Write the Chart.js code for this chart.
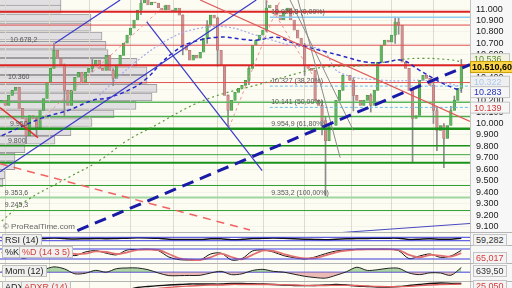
<!DOCTYPE html>
<html>
<head>
<meta charset="utf-8">
<script src="https://cdn.jsdelivr.net/npm/chart.js@4.4.0/dist/chart.umd.min.js"></script>
<style>
html,body{margin:0;padding:0;background:#fff;}
#wrap{position:relative;width:512px;height:288px;overflow:hidden;background:#fcfcf3;font-family:"Liberation Sans",Arial,sans-serif;}
canvas{position:absolute;left:0;}
.axisbg{position:absolute;left:470px;top:0;width:42px;height:288px;background:#f7f7f7;border-left:1px solid #c4c4c4;box-sizing:border-box;}
.sep{position:absolute;left:0;width:512px;height:1px;background:#b4b4b4;}
.tag{position:absolute;font-size:9px;line-height:10px;padding:0 2px;background:#f0f0ee;border:1px solid #c0c0c0;color:#222;white-space:nowrap;}
.val{position:absolute;left:473px;font-size:9px;line-height:10px;padding:0 2px;background:#f4f4f4;border:1px solid #c4c4c4;color:#333;white-space:nowrap;}
.copy{position:absolute;left:3px;top:222px;font-size:8px;color:#666;}
</style>
</head>
<body>
<div id="wrap">
  <div class="axisbg"></div>
  <canvas id="vp" width="470" height="233" style="top:0"></canvas>
  <canvas id="main" width="512" height="233" style="top:0"></canvas>
  <canvas id="rsi" width="512" height="12" style="top:233px"></canvas>
  <canvas id="sto" width="512" height="18" style="top:245px"></canvas>
  <canvas id="mom" width="512" height="18" style="top:263px"></canvas>
  <canvas id="adx" width="512" height="24" style="top:281px"></canvas>
  <div class="sep" style="top:232px"></div>
  <div class="sep" style="top:245px"></div>
  <div class="sep" style="top:263px"></div>
  <div class="sep" style="top:281px"></div>
  <div class="copy">© ProRealTime.com</div>
  <div class="tag" style="left:2px;top:234px">RSI (14)</div>
  <div class="tag" style="left:2px;top:246px">%K</div>
  <div class="tag" style="left:19px;top:246px;color:#d63c3c">%D (14 3 5)</div>
  <div class="tag" style="left:2px;top:265px">Mom (12)</div>
  <div class="tag" style="left:2px;top:281px">ADX</div>
  <div class="tag" style="left:21px;top:281px;color:#d63c3c">ADXR (14)</div>
  <div class="val" style="top:234px">59,282</div>
  <div class="val" style="top:252px;color:#d63c3c">65,017</div>
  <div class="val" style="top:265px">639,50</div>
  <div class="val" style="top:280px;color:#d63c3c">25,050</div>
</div>
<script>
// candles (open = previous close)
const firstOpen = 10180;
const closes = [
  10202,10158,10246,10289,10316,10132,10044,9895,10070,10044,
  9965,10114,10219,10360,10482,10640,10570,10509,10289,10158,
  10289,10404,10447,10360,10447,10482,10509,10553,10482,10465,
  10596,10465,10395,10509,10596,10702,10772,10833,10904,10991,
  11053,11100,11035,11061,11053,11009,10991,11035,10991,10974,
  11009,10947,10684,10640,10553,10596,10570,10623,10746,10860,
  10947,10921,10640,10509,10246,10114,10202,10272,10307,10333,
  10377,10482,10684,10728,10772,10816,11009,11035,11035,10947,
  10904,10974,11009,10904,10816,10746,10684,10509,10482,10465,
  10202,10158,10026,9851,9983,9983,10202,10289,10421,10421,
  10377,10246,10202,10158,10202,10246,10158,10289,10535,10684,
  10728,10711,10772,10886,10860,10535,10482,10289,10044,10070,
  10377,10421,10395,10333,10114,9939,9983,9869,9983,10114,
  10202,10307,10510.6
];
const wickIdx  = [7,10,15,18,26,32,40,52,59,62,65,71,76,87,92,93,101,106,113,114,118,124,125,127,129,130,132];
const wickLow  = [9825,9895,10600,10070,10450,10330,10950,10600,10700,10500,9982,10340,10800,10420,9900,9368,10110,10100,10700,10780,9658,10000,9763,9614,9990,10140,10270];
const wickHigh = [10000,10060,10702,10520,10560,10480,11120,10950,10900,10930,10250,10500,11120,10700,10200,10060,10400,10260,10930,10920,10300,10380,10140,10000,10150,10240,10560];

// volume profile
const vpPrice = [11061,11000,10921,10842,10763,10684,10610,10535,10461,10386,10307,10232,10158,10083,10009,9930,9855,9781,9706,9632,9553,9482];
const vpVol   = [61,61,91,91,102,106,108,137,147,147,157,152,136,114,92,71,55,25,15,15,5,3];

// horizontal levels
const hLevels = [10976,10929,10860,10684,10509,10358,10327,10187,10141,10061,9955,9807,9728,9658,9459,9353,9240];
const hFrom   = [-0.5,77,-0.5,-0.5,-0.5,-0.5,77,-0.5,77,-0.5,-0.5,-0.5,-0.5,-0.5,-0.5,-0.5,-0.5];
const hColors = ['#dd2424','#8cccf2','#e04a4a','#e05252','#dd2424','#e05252','#6cbcf0','#5cb85c','#6cbcf0','#4cae4c','#1b921b','#1b921b','#3aa63a','#1b921b','#2e9e2e','#a0d6a0','#2e9e2e'];
const hWidths = [2,1.5,1,1,2,1,1,1.5,1,1.5,2.5,1.5,1,2,1,2,1];
const hDashed = [0,0,0,0,0,0,1,0,1,0,0,0,0,0,0,0,0];

// moving averages
const maBlueIdx = [0,12,19,26,31,38,42,46,49,53,62,69,73,79,83,88,97,105,110,115,120,125,130,132];
const maBlue    = [9895,10053,10114,10202,10228,10316,10404,10535,10614,10693,10754,10737,10728,10754,10711,10667,10596,10535,10535,10553,10465,10377,10307,10289];
const maGreenIdx = [0,7,19,28,36,43,58,76,85,92,105,113,121,130,132];
const maGreen    = [9149,9325,9526,9675,9851,9965,10202,10360,10439,10491,10509,10553,10570,10553,10536];
const maLavIdx = [28,38,49,57,65,73,83,92,97,110,121,128,132];
const maLav    = [10246,10526,10754,10833,10842,10772,10684,10640,10447,10377,10377,10351,10322];

// drawn trend lines: [index, price] pairs
const tlFrom  = [[-0.5,9579],[15.3,10702],[41.7,10886],[16.7,9000],[91.5,9035],[57,11079],[-0.5,10140],[-0.5,9649],[82.8,11079],[85.1,11079],[11,10026],[65.3,9965],[76,11079]];
const tlTo    = [[73.1,11079],[34,11079],[74.8,9588],[134.5,10515],[134.5,9127],[134.5,10018],[10.4,9877],[71.3,9070],[101,9939],[97.2,9702],[46.9,11035],[80,11079],[89.7,10404]];
const tlColor = ['#3a3ac8','#3a3ac8','#3a3ac8','#1a1aa8','#4848c0','#e05858','#e03030','#f06262','#8a8a8a','#8a8a8a','#f09494','#f09494','#f09494'];
const tlWidth = [1.2,1.2,1.2,3,1,1.2,1.5,1.5,1,1,1,1,1];
const tlDash  = [[],[],[],[12,7],[],[],[],[8,6],[],[],[3,3],[3,3],[3,3]];

// annotation labels
const noteText  = ['10.678,2','10.360','9.950','9.800','9.353,6','9.245,3','10.928,8 (0,00%)','10.327 (38,20%)','10.141 (50,00%)','9.954,9 (61,80%)','9.353,2 (100,00%)'];
const noteIdx   = [2.4,1.8,2.4,1.8,0.9,0.9,77.4,77.4,77.4,77.4,77.4];
const notePrice = [10684,10358,9955,9807,9353,9240,10929,10327,10141,9955,9353];

const priceTicks = [9100,9200,9300,9400,9500,9600,9700,9800,9900,10000,10100,10200,10300,10400,10500,10600,10700,10800,10900,11000];
const gridIdx = [1,13.6,25.1,36.9,49.2,62.1,75.1,87.1,100.4,111.9,123.9];

// indicators, one value every 3 candles
const oscIdx = closes.filter((c, i) => i % 3 === 0).map((c, k) => k * 3);
const rsi   = [55,58,48,50,55,62,55,50,53,56,54,57,60,65,63,58,48,45,44,44,52,52,42,46,55,58,62,58,52,48,45,42,47,52,55,57,58,60,59,44,48,52,46,48,59];
const stoK  = [60,55,25,40,55,60,60,40,62,70,55,45,74,77,78,70,32,16,14,14,50,55,14,22,68,74,62,40,28,20,32,52,68,74,78,78,78,78,70,22,38,50,30,38,72];
const stoD  = [58,57,40,35,48,58,60,50,52,66,62,50,60,75,77,74,50,24,16,14,30,52,32,18,45,70,68,50,34,24,26,42,60,70,76,78,78,78,74,45,30,44,40,34,55];
const mom   = [100,150,-100,-170,280,640,400,-200,-130,220,0,430,510,510,300,-100,-420,-420,-400,-380,-100,100,-300,-200,200,340,100,0,-250,-500,-650,-720,-380,50,600,210,300,470,470,-100,-300,-80,-100,-380,560];
const adx   = [22,21,20,20,21,22,22,21,21,22,23,24,26,28.5,29.5,30.3,31,31.5,32,32,32,32,32.5,32.5,32.3,32,31.5,31,30.5,30.3,30.5,31,31.5,31,30,29.5,29,29,29.5,30.5,31.5,32.5,33,32.7,32.5];
const adxr  = [23,22,21,21,21,21,21,21,21,21,22,22,23,25,26.5,27.5,28.5,29.5,30,30.5,31,31,31.5,31.5,31.5,31.5,31.5,31.3,31,30.7,30.5,30.5,30.7,30.7,30.5,30,29.5,29.3,29.3,29.7,30.3,31,31.5,31.7,31.8];

Chart.defaults.font.family = '"Liberation Sans", Arial, sans-serif';
Chart.defaults.font.size = 9;
Chart.defaults.color = '#222';

const X_MIN = -0.5, X_MAX = 134.5;

function xScale() {
  return {
    type: 'linear', min: X_MIN, max: X_MAX, offset: false,
    afterBuildTicks: s => { s.ticks = gridIdx.map(v => ({ value: v })); },
    afterFit: s => { s.height = 0; },
    ticks: { display: false },
    grid: { color: '#dcdcd0', drawTicks: false, offset: false },
    border: { display: false }
  };
}

function hiddenY(min, max) {
  return {
    position: 'right', min: min, max: max,
    ticks: { display: false },
    grid: { display: false },
    border: { display: false },
    afterFit: s => { s.width = 42; s.paddingTop = 0; s.paddingBottom = 0; }
  };
}

function baseOpts(y) {
  return {
    responsive: false, animation: false, devicePixelRatio: 1,
    plugins: { legend: { display: false }, tooltip: { enabled: false } },
    scales: { x: xScale(), y: y }
  };
}

function flat(v, color, w) {
  return { type: 'line', data: [{ x: X_MIN, y: v }, { x: X_MAX, y: v }], borderColor: color, borderWidth: w, pointRadius: 0 };
}

function series(vals, color, w, extra) {
  return Object.assign({
    type: 'line', data: vals.map((v, k) => ({ x: oscIdx[k], y: v })),
    borderColor: color, borderWidth: w, pointRadius: 0, tension: 0.3
  }, extra || {});
}

// volume profile (behind)
new Chart(document.getElementById('vp'), {
  type: 'bar',
  data: { datasets: [{
    data: vpPrice.map((p, k) => ({ x: vpVol[k], y: p })),
    backgroundColor: '#e2dfe2', borderColor: '#9e9c9e', borderWidth: 1, barThickness: 8
  }] },
  options: {
    indexAxis: 'y', responsive: false, animation: false, devicePixelRatio: 1,
    plugins: { legend: { display: false }, tooltip: { enabled: false } },
    scales: {
      x: { type: 'linear', min: 0, max: 470, display: false },
      y: { type: 'linear', min: 9044, max: 11079, display: false, offset: false }
    }
  }
});

// main price chart
const opens = closes.map((c, i) => i === 0 ? firstOpen : closes[i - 1]);
const datasets = [];
datasets.push({
  type: 'bar', order: 20, grouped: false, barThickness: 1,
  data: wickIdx.map((k, j) => ({ x: k, y: [wickLow[j], wickHigh[j]] })),
  backgroundColor: '#8c8c8c'
});
datasets.push({
  type: 'bar', order: 19, grouped: false, barThickness: 2.6,
  data: closes.map((c, i) => ({ x: i, y: [opens[i], c] })),
  backgroundColor: closes.map((c, i) => c >= opens[i] ? '#62b462' : '#d09090'),
  borderColor: closes.map((c, i) => c >= opens[i] ? '#3c8f3c' : '#a86a6a'),
  borderWidth: 0.5, borderSkipped: false
});
hLevels.forEach((v, k) => datasets.push({
  type: 'line', order: 5, data: [{ x: hFrom[k], y: v }, { x: X_MAX, y: v }],
  borderColor: hColors[k], borderWidth: hWidths[k], borderDash: hDashed[k] ? [3, 2] : [], pointRadius: 0
}));
[[maBlueIdx, maBlue, '#2828c8', 1.5, [4, 3]],
 [maGreenIdx, maGreen, '#5a9a3a', 1.2, [2, 3]],
 [maLavIdx, maLav, '#a8a8ea', 1.2, [2, 2]]].forEach(m => datasets.push({
  type: 'line', order: 4, data: m[0].map((ix, k) => ({ x: ix, y: m[1][k] })),
  borderColor: m[2], borderWidth: m[3], borderDash: m[4], pointRadius: 0, tension: 0.4
}));
tlFrom.forEach((a, k) => datasets.push({
  type: 'line', order: 3, data: [{ x: a[0], y: a[1] }, { x: tlTo[k][0], y: tlTo[k][1] }],
  borderColor: tlColor[k], borderWidth: tlWidth[k], borderDash: tlDash[k], pointRadius: 0
}));

const axisTags = [
  { v: 10536, t: '10.536', c: '#5a8a2a', bg: '#f2f2e4', nudge: -3 },
  { v: 10510.6, t: '10.510,60', c: '#000', bg: '#ffd54a', bold: true, nudge: 2 },
  { v: 10322, t: '10.322', c: '#a8c8f0', bg: '#efefef', nudge: -5 },
  { v: 10283, t: '10.283', c: '#2433b8', bg: '#f6f6f6', nudge: 1 },
  { v: 10139, t: '10.139', c: '#d03a3a', bg: '#f6f6f6', nudge: 0 }
];

const notesPlugin = {
  id: 'notes',
  afterDatasetsDraw(chart) {
    const { ctx, scales } = chart;
    ctx.save();
    ctx.font = '7px "Liberation Sans", Arial, sans-serif';
    ctx.fillStyle = '#555';
    ctx.textBaseline = 'bottom';
    noteText.forEach((t, k) => {
      ctx.fillText(t, scales.x.getPixelForValue(noteIdx[k]), scales.y.getPixelForValue(notePrice[k]) - 1.5);
    });
    ctx.restore();
  },
  afterDraw(chart) {
    const { ctx, scales } = chart;
    ctx.save();
    ctx.textBaseline = 'middle';
    axisTags.forEach(a => {
      const y = scales.y.getPixelForValue(a.v) + a.nudge;
      const w = a.bold ? 42 : 39;
      ctx.fillStyle = a.bg;
      ctx.fillRect(470.5, y - 5.5, w, 11);
      ctx.strokeStyle = a.bold ? '#c9a000' : '#c4c4c4';
      ctx.lineWidth = 1;
      ctx.strokeRect(470.5, y - 5.5, w, 11);
      ctx.fillStyle = a.c;
      ctx.font = (a.bold ? 'bold ' : '') + '9px "Liberation Sans", Arial, sans-serif';
      ctx.fillText(a.t, a.bold ? 472 : 474, y + 0.5);
    });
    ctx.restore();
  }
};

new Chart(document.getElementById('main'), {
  type: 'bar',
  data: { datasets: datasets },
  options: baseOpts({
    position: 'right', min: 9044, max: 11079,
    afterBuildTicks: s => { s.ticks = priceTicks.map(v => ({ value: v })); },
    afterFit: s => { s.width = 42; s.paddingTop = 0; s.paddingBottom = 0; },
    ticks: { autoSkip: false, padding: 6, color: '#222', callback: v => (v / 1000).toFixed(3) },
    grid: { color: 'rgba(0,0,0,0.035)', drawTicks: false },
    border: { color: '#c4c4c4' }
  }),
  plugins: [notesPlugin]
});

// RSI
new Chart(document.getElementById('rsi'), {
  type: 'line',
  data: { datasets: [flat(70, '#3c3ce0', 1), flat(30, '#3c3ce0', 1), series(rsi, '#111', 1.5)] },
  options: baseOpts(hiddenY(-20.5, 120.6))
});

// Stochastic
new Chart(document.getElementById('sto'), {
  type: 'line',
  data: { datasets: [flat(80, '#3c3ce0', 1), flat(20, '#3c3ce0', 1),
    series(stoD, '#e27070', 1.8), series(stoK, '#111', 1)] },
  options: baseOpts(hiddenY(-4, 104))
});

// Momentum
new Chart(document.getElementById('mom'), {
  type: 'line',
  data: { datasets: [
    series(mom, '#222', 1, { fill: { target: { value: 0 }, above: 'rgba(110,180,100,0.55)', below: 'rgba(225,140,140,0.6)' } }),
    flat(0, '#3c3ce0', 1)] },
  options: baseOpts(hiddenY(-1070, 1110))
});

// ADX
new Chart(document.getElementById('adx'), {
  type: 'line',
  data: { datasets: [series(adxr, '#e06060', 1.3), series(adx, '#111', 1.3)] },
  options: baseOpts(hiddenY(11, 35))
});
</script>
</body>
</html>
